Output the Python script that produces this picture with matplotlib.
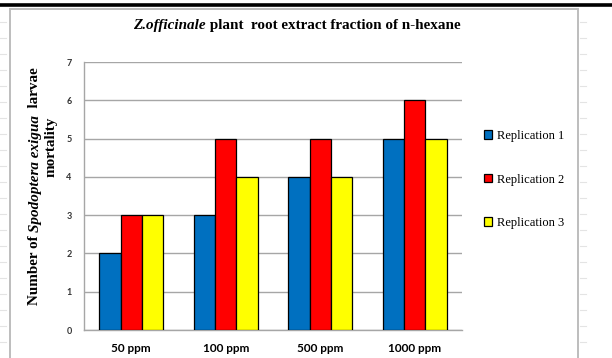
import numpy as np
import matplotlib.pyplot as plt
from matplotlib.lines import Line2D
from matplotlib.patches import Rectangle

# Larvae mortality counts
doses = ['50 ppm', '100 ppm', '500 ppm', '1000 ppm']
rep1 = [2, 3, 4, 5]
rep2 = [3, 5, 5, 6]
rep3 = [3, 4, 4, 5]
series_names = ['Replication 1', 'Replication 2', 'Replication 3']
colors = ['#0070C0', '#FF0000', '#FFFF00']

serif = 'Liberation Serif'
sans = 'Lato'

fig = plt.figure(figsize=(6.12, 3.58), dpi=100)
fig.patch.set_facecolor('white')

# spreadsheet frame around the chart
fig.add_artist(Line2D([0, 1], [1 - 4.5 / 358, 1 - 4.5 / 358], color='black', lw=2.6,
                      transform=fig.transFigure))
fig.add_artist(Rectangle((10 / 612, -0.05), (578 - 10) / 612, 1.05 - 9 / 358,
                         transform=fig.transFigure, fill=False, ec='#BDBDBD', lw=1.4))
for yy in np.arange(22, 358, 16):
    fig.add_artist(Line2D([0, 6 / 612], [1 - yy / 358] * 2, color='#E4E4E4', lw=0.8,
                          transform=fig.transFigure))
    fig.add_artist(Line2D([580 / 612, 586 / 612], [1 - yy / 358] * 2, color='#E4E4E4', lw=0.8,
                          transform=fig.transFigure))

ax = fig.add_axes([84 / 612, 28 / 358, 378 / 612, 268 / 358])

x = np.arange(len(doses))
w = 0.225
for i, vals in enumerate([rep1, rep2, rep3]):
    ax.bar(x + (i - 1) * w, vals, w, color=colors[i], edgecolor='black', linewidth=0.9,
           label=series_names[i], zorder=3)

ax.set_xlim(-0.5, len(doses) - 0.5)
ax.set_ylim(0, 7)
ax.set_yticks(range(0, 8))
ax.yaxis.grid(True, color='#A6A6A6', linewidth=1.0, zorder=0)
ax.set_axisbelow(True)
for side in ['top', 'right']:
    ax.spines[side].set_visible(False)
ax.spines['left'].set_color('#A6A6A6')
ax.spines['bottom'].set_color('#A6A6A6')
ax.spines['left'].set_linewidth(1.0)
ax.spines['bottom'].set_linewidth(1.0)

ax.set_xticks(x)
ax.set_xticklabels(doses, fontfamily=sans, fontweight='bold', fontsize=8.5)
ax.tick_params(axis='x', length=0, pad=9)
ax.tick_params(axis='y', length=0, pad=9, labelsize=6.5)
for lab in ax.get_yticklabels():
    lab.set_fontfamily(sans)
    lab.set_fontweight('bold')
    lab.set_color('#333333')

# title with italic species name
t1 = fig.text(133 / 612, 1 - 25 / 358, 'Z.officinale', fontfamily=serif, fontweight='bold',
              fontstyle='italic', fontsize=10.9, va='center', ha='left')
ax.annotate(' plant  root extract fraction of n-hexane', xy=(1, 0), xycoords=t1,
            va='bottom', ha='left', fontfamily=serif, fontweight='bold', fontsize=10.9,
            annotation_clip=False)

# y axis title, two lines, mixed styles
yl1 = fig.text(35 / 612, 1 - 305 / 358, 'Number of ', fontfamily=serif, fontweight='bold',
               fontsize=10.9, rotation=90, va='bottom', ha='center')
yl2 = ax.annotate('Spodoptera exigua', xy=(0, 1), xycoords=yl1, va='bottom', ha='left',
                  rotation=90, fontfamily=serif, fontweight='bold', fontstyle='italic',
                  fontsize=10.9, annotation_clip=False)
ax.annotate('  larvae', xy=(0, 1), xycoords=yl2, va='bottom', ha='left', rotation=90,
            fontfamily=serif, fontweight='bold', fontsize=10.9, annotation_clip=False)
fig.text(51 / 612, 1 - 147 / 358, 'mortality', fontfamily=serif, fontweight='bold',
         fontsize=10.9, rotation=90, va='center', ha='center')

leg = ax.legend(loc='center left', bbox_to_anchor=(473 / 612, 1 - 179.5 / 358),
                bbox_transform=fig.transFigure, frameon=False,
                prop={'family': serif, 'size': 9}, handlelength=0.65, handleheight=0.65,
                handletextpad=0.35, labelspacing=2.52)

fig.savefig('out.png', dpi=100, facecolor='white')
